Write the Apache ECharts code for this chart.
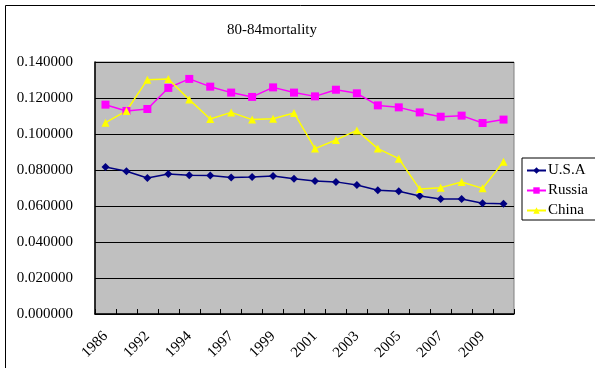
<!DOCTYPE html>
<html>
<head>
<meta charset="utf-8">
<script src="https://cdn.jsdelivr.net/npm/echarts@6/dist/echarts.min.js"></script>
<style>
  html, body { margin: 0; padding: 0; background: #fff; }
  #chart { width: 595px; height: 368px; }
</style>
</head>
<body>
<div id="chart"></div>
<script>
// Years on the category axis (every other one is labelled)
const years = ['1986', '1990', '1992', '1993', '1994', '1996', '1997', '1998', '1999', '2000',
               '2001', '2002', '2003', '2004', '2005', '2006', '2007', '2008', '2009', '2010'];

// Mortality rate, age 80-84
const usa = [0.0817, 0.0793, 0.0756, 0.0778, 0.0771, 0.0769, 0.0759, 0.0761, 0.0767, 0.0752,
             0.0739, 0.0734, 0.0717, 0.0687, 0.0682, 0.0656, 0.0639, 0.0639, 0.0615, 0.0613];
const russia = [0.1163, 0.1128, 0.1139, 0.1256, 0.1306, 0.1263, 0.1230, 0.1206, 0.1259, 0.1230,
                0.1209, 0.1246, 0.1226, 0.1159, 0.1148, 0.1120, 0.1096, 0.1102, 0.1061, 0.1080];
const china = [0.1063, 0.1128, 0.1302, 0.1306, 0.1191, 0.1083, 0.1120, 0.1080, 0.1085, 0.1117,
               0.0919, 0.0967, 0.1020, 0.0919, 0.0863, 0.0694, 0.0702, 0.0733, 0.0698, 0.0846];

const seriesNames = ['U.S.A', 'Russia', 'China'];
const yTicks = { min: 0, max: 0.14, step: 0.02 };

const FONT = '"Liberation Serif", "DejaVu Serif", serif';

const chart = echarts.init(document.getElementById('chart'), null, { renderer: 'canvas' });

function lineSeries(name, data, color, symbol, size) {
  return {
    name: name,
    type: 'line',
    data: data,
    symbol: symbol,
    symbolSize: size,
    lineStyle: { color: color, width: 1.5 },
    itemStyle: { color: color },
    emphasis: { disabled: true },
    animation: false
  };
}

chart.setOption({
  backgroundColor: '#ffffff',
  animation: false,
  title: {
    text: '80-84mortality',
    left: 267,
    top: 18,
    textAlign: 'center',
    textStyle: { fontFamily: FONT, fontSize: 15, fontWeight: 'normal', color: '#000' }
  },
  graphic: [{
    type: 'rect',
    shape: { x: 5.5, y: 5.5, width: 700, height: 500 },
    style: { fill: 'none', stroke: '#000', lineWidth: 1 },
    silent: true,
    z: -1
  }],
  legend: {
    orient: 'vertical',
    left: 522,
    top: 158,
    data: seriesNames,
    itemWidth: 19,
    itemHeight: 8,
    itemGap: 5,
    padding: [5, 10, 2, 4],
    borderColor: '#000',
    borderWidth: 1,
    backgroundColor: '#fff',
    textStyle: { fontFamily: FONT, fontSize: 15, color: '#000', padding: [0, 0, 0, -3] }
  },
  grid: {
    left: 95,
    top: 62,
    right: 81,
    bottom: 54,
    show: true,
    backgroundColor: '#C0C0C0',
    borderColor: '#808080',
    borderWidth: 1
  },
  xAxis: {
    type: 'category',
    data: years,
    boundaryGap: true,
    axisLine: { show: true, lineStyle: { color: '#000', width: 1.5 } },
    axisTick: { show: true, inside: true, length: 5, interval: 0, lineStyle: { color: '#000' } },
    axisLabel: {
      interval: 1,
      rotate: 45,
      margin: 20,
      fontFamily: FONT,
      fontSize: 15,
      color: '#000'
    },
    splitLine: { show: false }
  },
  yAxis: {
    type: 'value',
    min: yTicks.min,
    max: yTicks.max,
    interval: yTicks.step,
    axisLine: { show: true, lineStyle: { color: '#000', width: 1.5 } },
    axisTick: { show: true, inside: true, length: 5, lineStyle: { color: '#000' } },
    axisLabel: {
      margin: 22,
      fontFamily: FONT,
      fontSize: 15,
      color: '#000',
      formatter: v => v.toFixed(6)
    },
    splitLine: { show: true, lineStyle: { color: '#000', width: 1 } }
  },
  series: [
    lineSeries(seriesNames[0], usa, '#000080', 'diamond', 8),
    lineSeries(seriesNames[1], russia, '#FF00FF', 'rect', 8),
    lineSeries(seriesNames[2], china, '#FFFF00', 'triangle', 8)
  ]
});
</script>
</body>
</html>
